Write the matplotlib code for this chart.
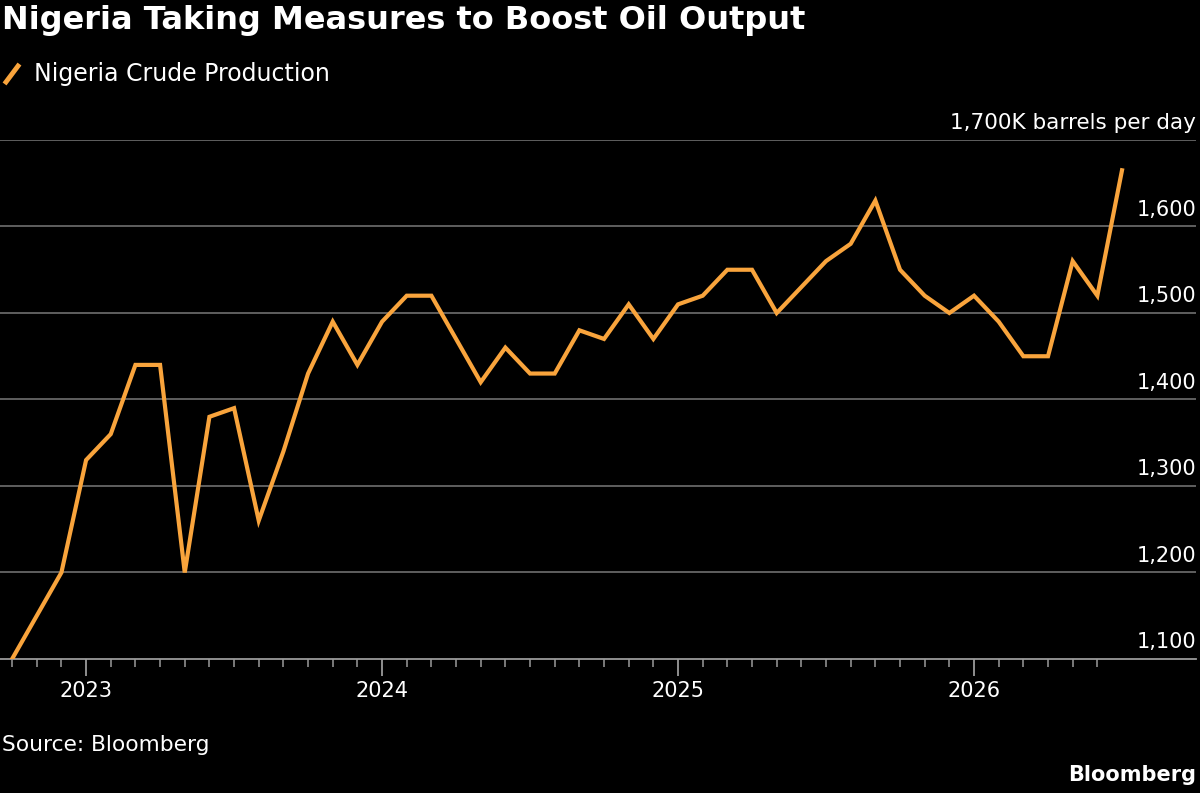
import matplotlib.pyplot as plt
from matplotlib.lines import Line2D
from matplotlib.transforms import blended_transform_factory

# monthly crude production, thousand barrels per day, Oct 2022 .. Jul 2026
months = ['2022-10', '2022-11', '2022-12',
          '2023-01', '2023-02', '2023-03', '2023-04', '2023-05', '2023-06',
          '2023-07', '2023-08', '2023-09', '2023-10', '2023-11', '2023-12',
          '2024-01', '2024-02', '2024-03', '2024-04', '2024-05', '2024-06',
          '2024-07', '2024-08', '2024-09', '2024-10', '2024-11', '2024-12',
          '2025-01', '2025-02', '2025-03', '2025-04', '2025-05', '2025-06',
          '2025-07', '2025-08', '2025-09', '2025-10', '2025-11', '2025-12',
          '2026-01', '2026-02', '2026-03', '2026-04', '2026-05', '2026-06',
          '2026-07']
production = [1100, 1150, 1200,
              1330, 1360, 1440, 1440, 1200, 1380,
              1390, 1260, 1340, 1430, 1490, 1440,
              1490, 1520, 1520, 1470, 1420, 1460,
              1430, 1430, 1480, 1470, 1510, 1470,
              1510, 1520, 1550, 1550, 1500, 1530,
              1560, 1580, 1630, 1550, 1520, 1500,
              1520, 1490, 1450, 1450, 1560, 1520,
              1665]
yticks = [1100, 1200, 1300, 1400, 1500, 1600]
year_labels = ['2023', '2024', '2025', '2026']

orange = '#F9A43C'
grid_c = '#666666'
font = 'DejaVu Sans'

x = list(range(len(months)))
year_pos = [months.index(y + '-01') for y in year_labels]

fig = plt.figure(figsize=(12, 7.93), dpi=100, facecolor='black')
ax = fig.add_axes([0, 1 - 659 / 793, 1196 / 1200, (659 - 140) / 793])
ax.set_facecolor('black')

ax.plot(x, production, color=orange, lw=3, solid_joinstyle='miter', zorder=3)

ax.set_ylim(1100, 1700)
ax.set_xlim(-0.49, 48.0)

for v in yticks[1:] + [1700]:
    ax.axhline(v, color=grid_c, lw=1.3, zorder=1)
for s in ['top', 'right', 'left']:
    ax.spines[s].set_visible(False)
ax.spines['bottom'].set_color('#9a9a9a')
ax.spines['bottom'].set_linewidth(1.3)

ax.set_yticks([])
ax.set_xticks(year_pos)
ax.set_xticklabels(year_labels)
ax.set_xticks(range(0, 45), minor=True)
ax.tick_params(axis='x', which='major', length=12, width=1.3, color='#9a9a9a',
               labelcolor='white', labelsize=15, pad=4)
ax.tick_params(axis='x', which='minor', length=6, width=1.1, color='#9a9a9a')

tr = blended_transform_factory(ax.transAxes, ax.transData)
for v in yticks:
    ax.text(1.0, v + 8, f'{v:,}', transform=tr, ha='right', va='bottom',
            color='white', fontsize=15, family=font)
ax.text(1.0, 1708, '1,700K barrels per day', transform=tr, ha='right',
        va='bottom', color='white', fontsize=15.5, family=font)

fig.text(0.002, 1 - 20 / 793, 'Nigeria Taking Measures to Boost Oil Output',
         color='white', fontsize=23, fontweight='heavy', family=font,
         ha='left', va='center')
fig.add_artist(Line2D([6 / 1200, 18 / 1200], [1 - 82 / 793, 1 - 66 / 793],
                      color=orange, lw=3.5, transform=fig.transFigure))
fig.text(34 / 1200, 1 - 74 / 793, 'Nigeria Crude Production', color='white',
         fontsize=17, family=font, ha='left', va='center')
fig.text(0.002, 1 - 745 / 793, 'Source: Bloomberg', color='white',
         fontsize=15.7, family=font, ha='left', va='center')
fig.text(1196 / 1200, 1 - 775 / 793, 'Bloomberg', color='white',
         fontsize=15, fontweight='bold', family=font, ha='right', va='center')

fig.savefig('out.png', dpi=100, facecolor='black')
